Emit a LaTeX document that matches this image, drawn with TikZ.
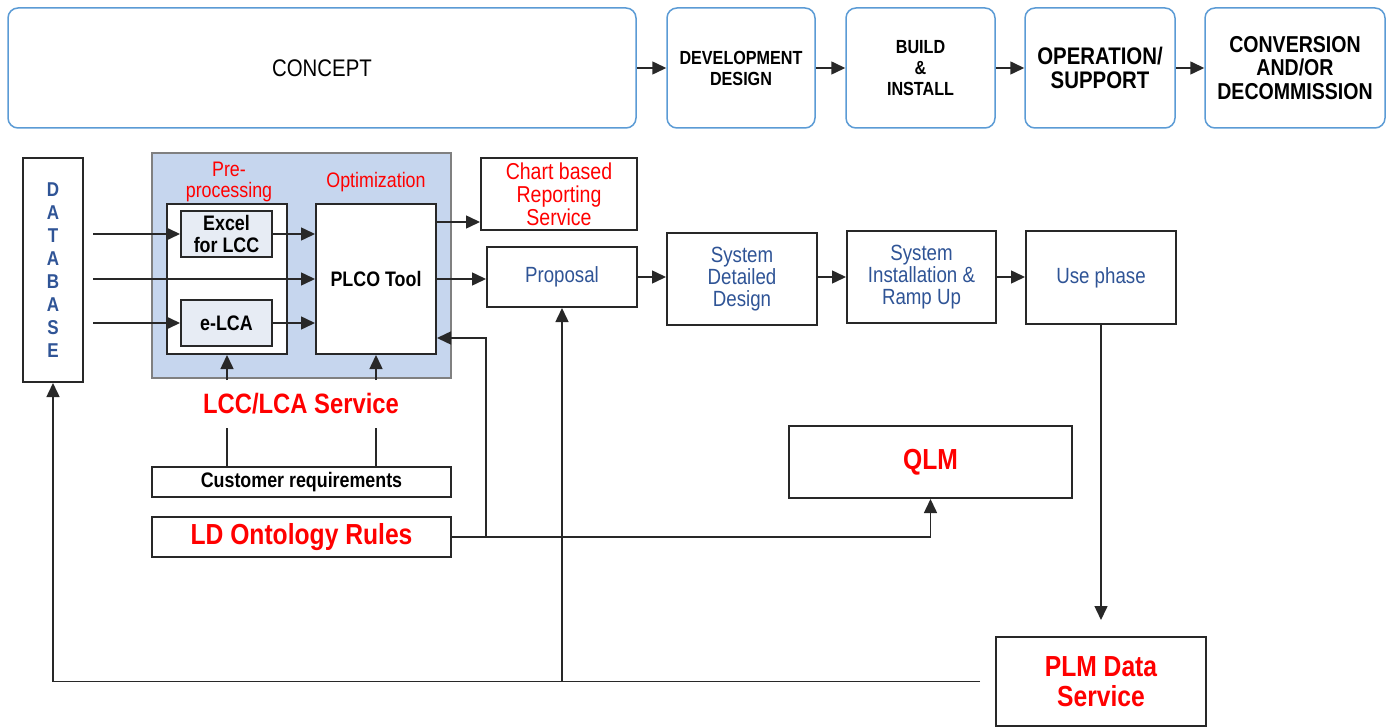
\documentclass[tikz,border=0pt]{standalone}
\usepackage{fontspec}
\setmainfont{Liberation Sans}[FakeStretch=0.85]
\usepackage{xcolor}
\definecolor{PhaseBlue}{RGB}{91,155,213}
\definecolor{TextBlue}{RGB}{47,84,150}
\definecolor{FillBlue}{RGB}{198,214,238}
\definecolor{FillPale}{RGB}{231,236,244}
\definecolor{LineGray}{RGB}{40,40,40}
\definecolor{BoxRed}{RGB}{255,0,0}
\usetikzlibrary{arrows.meta, positioning, calc}
\tikzset{
  % Lifecycle phase box (top row)
  phase/.style={
    rectangle, rounded corners=5pt,
    draw=PhaseBlue, line width=0.75pt,
    fill=white, align=center,
    minimum height=60pt, inner sep=2pt,
    font=\bfseries\fontsize{9.5}{10.5}\selectfont
  },
  % Plain process box
  pbox/.style={
    rectangle, draw=LineGray, line width=1pt,
    fill=white, align=center, inner sep=2pt
  },
  % Box variants
  pbox blue/.style={pbox, text=TextBlue, font=\fontsize{11}{11}\selectfont},
  pbox red/.style={pbox, text=BoxRed, font=\bfseries\fontsize{14.5}{15}\selectfont},
  pbox pale/.style={pbox, fill=FillPale, font=\bfseries\fontsize{10.5}{11}\selectfont},
  pbox dark/.style={pbox, font=\bfseries\fontsize{10.5}{12}\selectfont},
  % Red caption
  caption red/.style={text=BoxRed, align=center, inner sep=0pt,
    font=\fontsize{10.5}{10.5}\selectfont},
  % Arrows
  arr/.style={-{Triangle[length=7pt,width=6.5pt]}, line width=0.75pt, LineGray},
  conn/.style={line width=0.75pt, LineGray},
}

\begin{document}
\begin{tikzpicture}[x=0.5pt, y=-0.5pt]
  \useasboundingbox (0,0) rectangle (1391,727);

  %% Lifecycle phases
  \node[phase, minimum width=314pt, font=\fontsize{12}{13}\selectfont] (concept) at (322,68) {CONCEPT};
  \node[phase, minimum width=74pt] (devel) at (741,68) {DEVELOPMENT\\DESIGN};
  \node[phase, minimum width=74.5pt] (build) at (920.5,68) {BUILD\\\&\\INSTALL};
  \node[phase, minimum width=75pt, font=\bfseries\fontsize{12}{12}\selectfont] (oper) at (1100,68) {OPERATION/\\SUPPORT};
  \node[phase, minimum width=90pt, font=\bfseries\fontsize{11.5}{11.8}\selectfont] (conv) at (1295,68) {CONVERSION\\AND/OR\\DECOMMISSION};

  \draw[arr] (concept) -- (devel);
  \draw[arr] (devel) -- (build);
  \draw[arr] (build) -- (oper);
  \draw[arr] (oper) -- (conv);

  %% Database
  \node[pbox, minimum width=30pt, minimum height=112pt, text=TextBlue,
    font=\bfseries\fontsize{10}{11.5}\selectfont] (db) at (53,270) {D\\A\\T\\A\\B\\A\\S\\E};

  %% LCC/LCA service block
  \node[pbox, draw=gray, fill=FillBlue, minimum width=149.5pt, minimum height=112.5pt] (svc) at (301.5,265.5) {};
  \node[pbox, minimum width=60pt, minimum height=75pt] (pre) at (227,279) {};
  \node[pbox pale, minimum width=45.5pt, minimum height=23pt] (excel) at (226.5,234) {Excel\\for LCC};
  \node[pbox pale, minimum width=45.5pt, minimum height=23pt] (elca) at (226.5,323) {e-LCA};
  \node[pbox dark, minimum width=60pt, minimum height=75pt] (plco) at (376,279) {PLCO Tool};
  \node[caption red] (prelbl) at (229,182) {Pre-\\processing};
  \node[caption red] (optlbl) at (376,182) {Optimization};

  %% Inputs from database
  \coordinate (dbout) at ([xshift=4.5pt]db.east);
  \draw[arr] (dbout |- excel.west) -- (excel.west);
  \draw[arr] (dbout |- plco.west) -- (plco.west);
  \draw[arr] (dbout |- elca.west) -- (elca.west);
  \draw[arr] (excel.east) -- (excel.east -| plco.west);
  \draw[arr] (elca.east) -- (elca.east -| plco.west);

  %% Outputs
  \node[pbox, text=BoxRed, minimum width=78pt, minimum height=36pt,
    font=\fontsize{11.5}{11.5}\selectfont] (chart) at (559,194) {Chart based\\Reporting\\Service};
  \node[pbox blue, minimum width=75pt, minimum height=30pt] (proposal) at (562,277) {Proposal};
  \node[pbox blue, minimum width=75pt, minimum height=46pt] (sdd) at (742,279) {System\\Detailed\\Design};
  \node[pbox blue, minimum width=74.5pt, minimum height=46pt] (sir) at (921.5,277) {System\\Installation \&\\Ramp Up};
  \node[pbox blue, minimum width=75pt, minimum height=46.5pt] (use) at (1101,277.5) {Use phase};

  \draw[arr] ([yshift=28.5pt]plco.east) -- ([yshift=28.5pt]plco.east -| chart.west);
  \draw[arr] (plco.east) -- (plco.east -| proposal.west);
  \draw[arr] (proposal.east) -- (proposal.east -| sdd.west);
  \draw[arr] (sdd.east |- sir.west) -- (sir.west);
  \draw[arr] (sir.east) -- (sir.east -| use.west);

  %% Requirements and rules
  \node[caption red, minimum height=23.5pt, font=\bfseries\fontsize{14}{14}\selectfont] (lcclbl) at (301,404) {LCC/LCA Service};
  \node[pbox, minimum width=149.5pt, minimum height=15pt, inner sep=0pt,
    font=\bfseries\fontsize{10.5}{10.5}\selectfont] (cust) at (301.5,482) {Customer requirements};
  \node[pbox red, minimum width=149.5pt, minimum height=20pt, inner sep=0pt] (ld) at (301.5,537) {LD Ontology Rules};

  \draw[conn] (cust.north -| pre.south) -- (lcclbl.south -| pre.south);
  \draw[arr] (lcclbl.north -| pre.south) -- (pre.south);
  \draw[conn] (cust.north -| plco.south) -- (lcclbl.south -| plco.south);
  \draw[arr] (lcclbl.north -| plco.south) -- (plco.south);

  %% QLM and PLM
  \node[pbox red, minimum width=141.5pt, minimum height=36pt] (qlm) at (930.5,462) {QLM};
  \node[pbox red, minimum width=105pt, minimum height=44.5pt] (plm) at (1101,681.5) {PLM Data\\Service};

  \draw[arr] (ld.east) -| (qlm.south);
  \draw[arr] (ld.east -| proposal.west) |- ([yshift=-29.5pt]plco.east);
  \draw[arr, shorten >=8pt] (use.south) -- (plm.north);

  %% Feedback loop
  \draw[arr, shorten <=7.5pt] (plm.west) -| (db.south);
  \draw[arr] (proposal.south |- plm.west) -- (proposal.south);

\end{tikzpicture}
\end{document}
